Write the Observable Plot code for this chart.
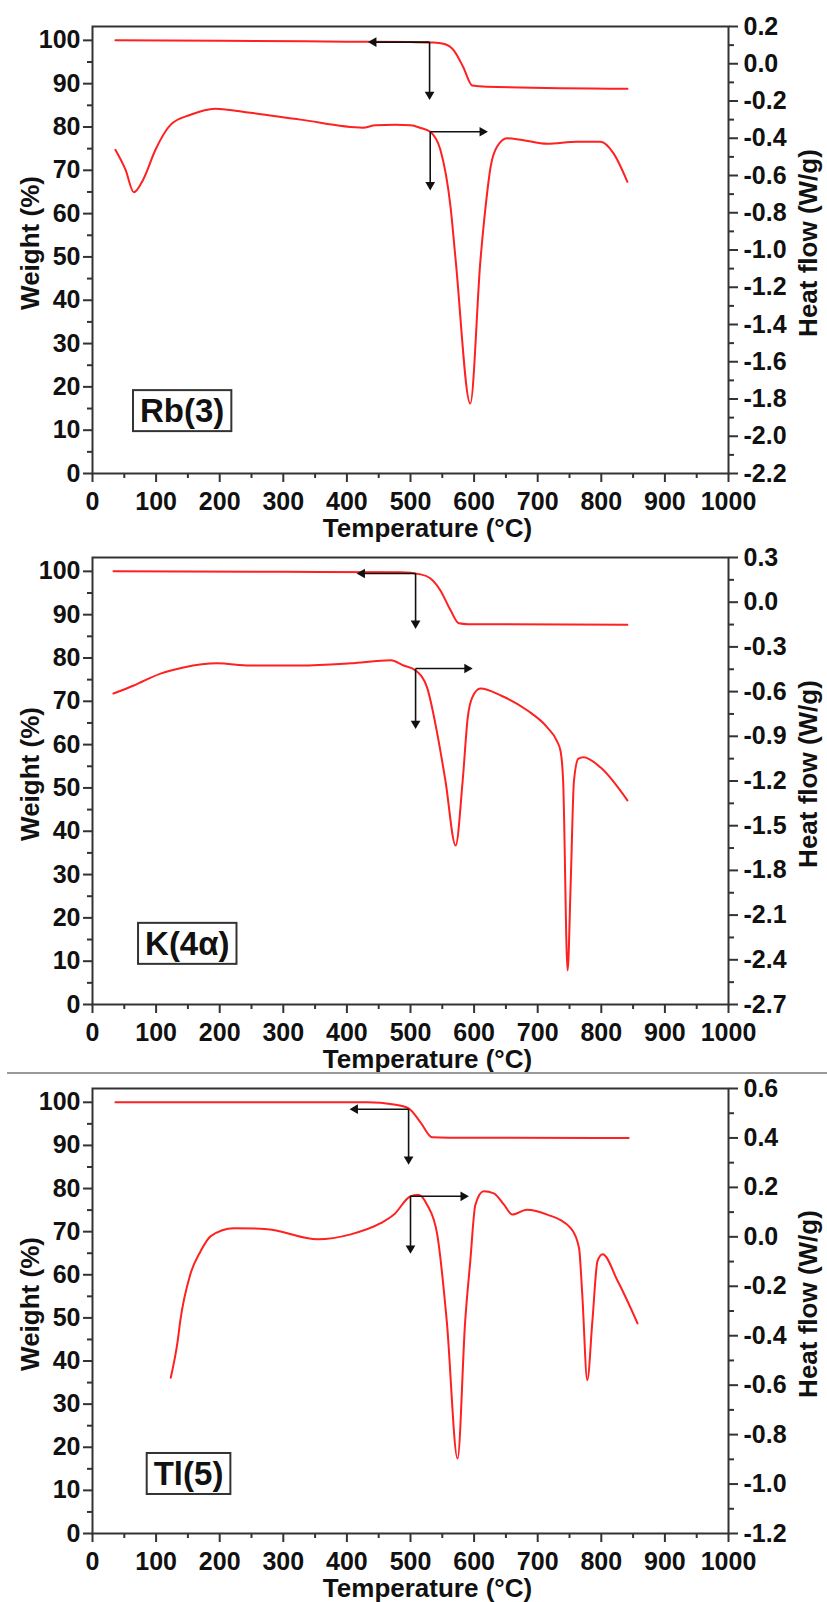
<!DOCTYPE html>
<html><head><meta charset="utf-8">
<script src="https://cdn.jsdelivr.net/npm/d3@7"></script>
<script src="https://cdn.jsdelivr.net/npm/@observablehq/plot@0.6"></script>
<style>
body{margin:0;background:#fff;width:827px;height:1602px;overflow:hidden;}
#chart{position:relative;width:827px;height:1602px;}
.panel{position:relative;width:827px;}
.panel svg{position:absolute;left:0;top:0;overflow:visible;max-width:none;}
#sep{position:absolute;left:7px;top:1072px;width:820px;height:2px;background:#9a9a9a;}
</style></head><body>
<div id="chart"></div>
<script>
// ---- axis ticks ----
const xMajorTicks = [0,100,200,300,400,500,600,700,800,900,1000];
const xMinorTicks = [50,150,250,350,450,550,650,750,850,950];
const weightTicks = [0,10,20,30,40,50,60,70,80,90,100];
const weightMinorTicks = [5,15,25,35,45,55,65,75,85,95];
const rbHeatTicks = [-2.2,-2.0,-1.8,-1.6,-1.4,-1.2,-1.0,-0.8,-0.6,-0.4,-0.2,0,0.2];
const kHeatTicks = [-2.7,-2.4,-2.1,-1.8,-1.5,-1.2,-0.9,-0.6,-0.3,0,0.3];
const tlHeatTicks = [-1.2,-1.0,-0.8,-0.6,-0.4,-0.2,0,0.2,0.4,0.6];

// ---- sample labels ----
const sampleNames = ["Rb(3)","K(4\u03B1)","Tl(5)"];
const labelTemp = [141,149,151];
const labelWeight = [14.3,13.9,13.7];

// ---- Rb(3) ----
const rbTgaTemp   = [36,200,400,500,536,552,568,583,597,620,841];
const rbTgaWeight = [100,99.9,99.7,99.6,99.5,99.2,97.7,93.8,89.6,89.3,88.8];
const rbDscTemp = [36,52,65,80,99,123,154,193,248,327,425,445,476,500,516,531,547,563,571,594,610,618,626,636,652,673,715,762,799,819,841];
const rbDscHeat = [-0.462,-0.57,-0.69,-0.62,-0.462,-0.327,-0.274,-0.241,-0.263,-0.30,-0.343,-0.33,-0.328,-0.33,-0.345,-0.365,-0.462,-0.77,-1.054,-1.824,-1.054,-0.77,-0.553,-0.446,-0.40,-0.408,-0.43,-0.419,-0.419,-0.48,-0.634];
const rbTgaArrows = [[530,99.6,442,99.6],[530,99.6,530,87.5]];
const rbDscArrows = [[531,-0.365,613,-0.365],[531,-0.365,531,-0.65]];

// ---- K(4a) ----
const kTgaTemp   = [33,300,484,516,531,547,563,576,590,841];
const kTgaWeight = [100,99.9,99.8,99.3,98.4,95.6,91,88,87.8,87.7];
const kDscTemp = [33,65,107,143,196,248,327,406,469,489,508,526,542,555,571,582,590,597,610,642,684,715,730,736,740,747,752,757,764,772,799,841];
const kDscHeat = [-0.613,-0.559,-0.479,-0.438,-0.41,-0.425,-0.425,-0.41,-0.39,-0.425,-0.458,-0.572,-0.88,-1.2,-1.633,-1.2,-0.774,-0.64,-0.58,-0.626,-0.727,-0.84,-0.93,-1.0,-1.2,-2.472,-1.868,-1.2,-1.05,-1.04,-1.11,-1.33];
const kTgaArrows = [[508,99.5,424,99.5],[508,99.5,508,88]];
const kDscArrows = [[508,-0.445,589,-0.445],[508,-0.445,508,-0.814]];

// ---- Tl(5) ----
const tlTgaTemp   = [36,432,474,497,516,534,560,843];
const tlTgaWeight = [100,100,99.5,98.6,95.3,91.9,91.8,91.7];
const tlDscTemp = [123,134,138,154,170,186,222,275,354,406,453,474,500,512,526,542,557,574,586,594,602,615,631,647,660,683,715,752,765,770,778,786,794,802,826,857];
const tlDscHeat = [-0.57,-0.42,-0.34,-0.15,-0.058,0.003,0.035,0.031,-0.01,0.01,0.055,0.09,0.164,0.17,0.13,0.01,-0.34,-0.897,-0.34,-0.098,0.13,0.184,0.176,0.13,0.09,0.11,0.09,0.035,-0.045,-0.23,-0.58,-0.34,-0.098,-0.07,-0.18,-0.35];
const tlTgaArrows = [[497,98.4,413,98.4],[497,98.4,497,86.8]];
const tlDscArrows = [[500,0.164,583,0.164],[500,0.164,500,-0.046]];

const FONT = '"Liberation Sans", Arial, Helvetica, sans-serif';
const RED = "#ff2020";
const AXIS = "#333";

const panels = [
  {height:540, mt:26, mb:67, tgaT:rbTgaTemp, tgaW:rbTgaWeight, dscT:rbDscTemp, dscH:rbDscHeat,
   hfTicks:rbHeatTicks, tgaArrows:rbTgaArrows, dscArrows:rbDscArrows, idx:0},
  {height:533, mt:17, mb:69, tgaT:kTgaTemp, tgaW:kTgaWeight, dscT:kDscTemp, dscH:kDscHeat,
   hfTicks:kHeatTicks, tgaArrows:kTgaArrows, dscArrows:kDscArrows, idx:1},
  {height:529, mt:15, mb:69, tgaT:tlTgaTemp, tgaW:tlTgaWeight, dscT:tlDscTemp, dscH:tlDscHeat,
   hfTicks:tlHeatTicks, tgaArrows:tlTgaArrows, dscArrows:tlDscArrows, idx:2}
];

function midpoints(a){ return d3.pairs(a).map(([p,q]) => (p+q)/2); }
// arrow shaft + filled triangular head pointing from (x1,y1) to (x2,y2)
const toArrow = a => ({x1:a[0], y1:a[1], x2:a[2], y2:a[3],
  rot: a[2] < a[0] ? -90 : a[2] > a[0] ? 90 : (a[3] < a[1] ? 180 : 0)});
function arrowMarks(list){
  const data = list.map(toArrow);
  return [
    Plot.link(data, {x1: "x1", y1: "y1", x2: "x2", y2: "y2", stroke: "#111", strokeWidth: 1.6}),
    Plot.dot(data, {x: "x2", y: "y2", symbol: "triangle", r: 3.6, fill: "#111", stroke: "none",
      rotate: "rot", dx: 0, dy: 0})
  ];
}

const chart = document.getElementById("chart");

for (const c of panels) {
  const div = document.createElement("div");
  div.className = "panel";
  div.style.height = c.height + "px";
  chart.appendChild(div);

  const common = {
    width: 827, height: c.height,
    marginLeft: 92, marginRight: 99, marginTop: c.mt, marginBottom: c.mb,
    style: {fontFamily: FONT, fontWeight: "bold", fontSize: "25px", color: "#111", background: "transparent", overflow: "visible"}
  };
  const tga = c.tgaT.map((t, i) => ({t, w: c.tgaW[i]}));
  const dsc = c.dscT.map((t, i) => ({t, h: c.dscH[i]}));
  const label = [{t: labelTemp[c.idx], w: labelWeight[c.idx], name: sampleNames[c.idx]}];
  const hfDomain = [c.hfTicks[0], c.hfTicks[c.hfTicks.length - 1]];

  const A = Plot.plot({
    ...common,
    x: {domain: [0, 1000], label: null},
    y: {domain: [0, 103.2], label: null},
    marks: [
      Plot.axisX({ticks: xMinorTicks, tickSize: 5, tickFormat: () => "", label: null, stroke: AXIS, strokeWidth: 2}),
      Plot.axisX({ticks: xMajorTicks, tickSize: 9, tickPadding: 10, tickFormat: d => String(d), label: null, stroke: AXIS, strokeWidth: 2}),
      Plot.axisY({ticks: weightMinorTicks, tickSize: 5, tickFormat: () => "", label: null, stroke: AXIS, strokeWidth: 2}),
      Plot.axisY({ticks: weightTicks, tickSize: 9, tickPadding: 3, tickFormat: d => String(d), label: null, stroke: AXIS, strokeWidth: 2}),
      Plot.frame({stroke: AXIS, strokeWidth: 2}),
      Plot.line(tga, {x: "t", y: "w", stroke: RED, strokeWidth: 2, curve: "monotone-x"}),
      ...arrowMarks(c.tgaArrows),
      Plot.text(label, {x: "t", y: "w", text: "name", fontSize: 33, fill: "#111"}),
      Plot.text(["Temperature (\u00B0C)"], {frameAnchor: "bottom", dx: 17, dy: 55, lineAnchor: "middle", fontSize: 26, fill: "#111"}),
      Plot.text(["Weight (%)"], {frameAnchor: "left", dx: -62, dy: -7, rotate: -90, textAnchor: "middle", lineAnchor: "middle", fontSize: 26, fill: "#111"})
    ]
  });

  const B = Plot.plot({
    ...common,
    x: {domain: [0, 1000], axis: null},
    y: {domain: hfDomain, label: null},
    marks: [
      Plot.axisY({anchor: "right", ticks: midpoints(c.hfTicks), tickSize: 5, tickFormat: () => "", label: null, stroke: AXIS, strokeWidth: 2}),
      Plot.axisY({anchor: "right", ticks: c.hfTicks, tickSize: 9, tickPadding: 6, tickFormat: d => d.toFixed(1), label: null, stroke: AXIS, strokeWidth: 2}),
      Plot.line(dsc, {x: "t", y: "h", stroke: RED, strokeWidth: 2, curve: "monotone-x"}),
      ...arrowMarks(c.dscArrows),
      Plot.text(["Heat flow (W/g)"], {frameAnchor: "right", dx: 80, dy: -7, rotate: -90, textAnchor: "middle", lineAnchor: "middle", fontSize: 26, fill: "#111"})
    ]
  });

  div.appendChild(A);
  div.appendChild(B);

  // box around the sample label
  const name = sampleNames[c.idx];
  const t = Array.from(A.querySelectorAll("text")).find(e => e.textContent === name);
  if (t) {
    const bb = t.getBBox();
    const ns = "http://www.w3.org/2000/svg";
    const r = document.createElementNS(ns, "rect");
    r.setAttribute("x", bb.x - 7);
    r.setAttribute("y", bb.y - 2);
    r.setAttribute("width", bb.width + 14);
    r.setAttribute("height", bb.height + 4);
    r.setAttribute("fill", "none");
    r.setAttribute("stroke", "#333");
    r.setAttribute("stroke-width", "2");
    const tr = t.getAttribute("transform");
    if (tr) r.setAttribute("transform", tr);
    t.parentNode.insertBefore(r, t);
  }
}

const sep = document.createElement("div");
sep.id = "sep";
chart.appendChild(sep);
</script>
</body></html>
